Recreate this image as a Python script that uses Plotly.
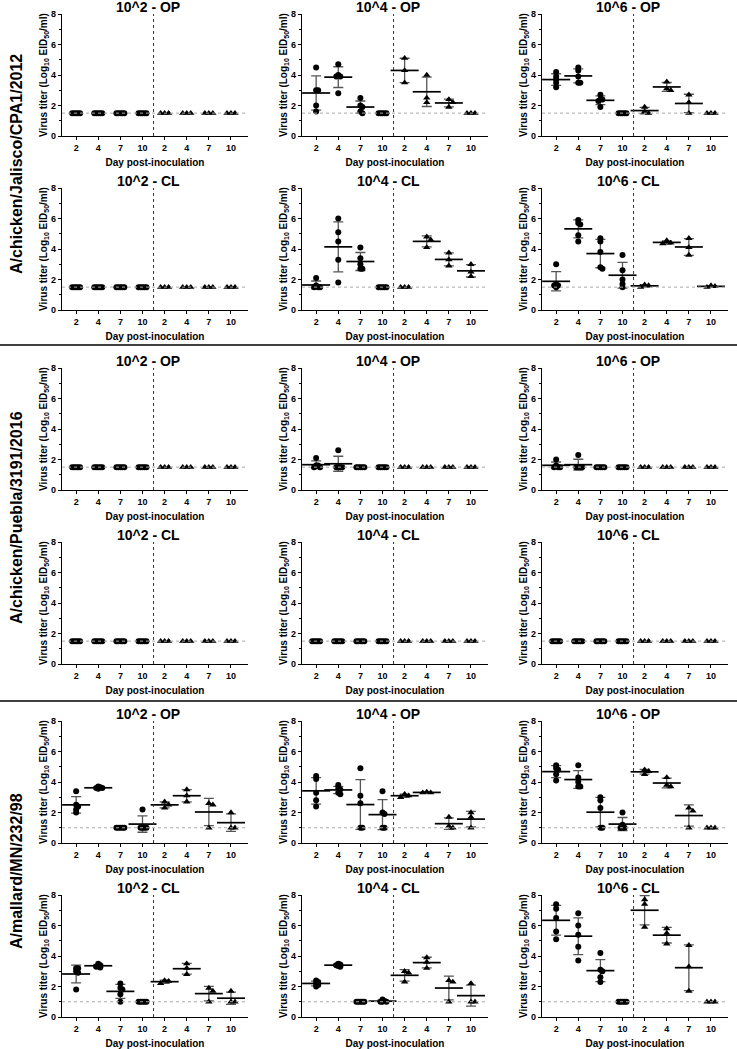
import numpy as np
import plotly.graph_objects as go

FONT = "Liberation Sans, Arial, sans-serif"

DAY_LABELS = ["2", "4", "7", "10", "2", "4", "7", "10"]
DOSES = ["10^2", "10^4", "10^6"]
SAMPLES = ["OP", "CL"]
STRAINS = ["A/chicken/Jalisco/CPA1/2012", "A/chicken/Puebla/3191/2016", "A/mallard/MN/232/98"]
LOD = [1.5, 1.5, 1.0]

# each panel: days 2,4,7,10 (circles, n=5) then days 2,4,7,10 (triangles, n=3)
JAL_E2_OP = [[1.5, 1.5, 1.5, 1.5, 1.5], [1.5, 1.5, 1.5, 1.5, 1.5], [1.5, 1.5, 1.5, 1.5, 1.5], [1.5, 1.5, 1.5, 1.5, 1.5],
             [1.5, 1.5, 1.5], [1.5, 1.5, 1.5], [1.5, 1.5, 1.5], [1.5, 1.5, 1.5]]
JAL_E4_OP = [[4.5, 3.0, 3.0, 2.0, 1.6], [4.7, 4.0, 3.9, 3.9, 2.8], [2.5, 2.0, 1.9, 1.6, 1.5], [1.5, 1.5, 1.5, 1.5, 1.5],
             [5.1, 4.3, 3.5], [4.0, 2.5, 2.2], [2.4, 2.2, 1.9], [1.5, 1.5, 1.5]]
JAL_E6_OP = [[4.2, 3.9, 3.7, 3.5, 3.2], [4.5, 4.3, 3.9, 3.5, 3.5], [2.7, 2.4, 2.4, 2.3, 1.9], [1.5, 1.5, 1.5, 1.5, 1.5],
             [1.9, 1.6, 1.5], [3.55, 3.1, 3.0], [2.7, 2.2, 1.5], [1.5, 1.5, 1.5]]
JAL_E2_CL = [[1.5, 1.5, 1.5, 1.5, 1.5], [1.5, 1.5, 1.5, 1.5, 1.5], [1.5, 1.5, 1.5, 1.5, 1.5], [1.5, 1.5, 1.5, 1.5, 1.5],
             [1.5, 1.5, 1.5], [1.5, 1.5, 1.5], [1.5, 1.5, 1.5], [1.5, 1.5, 1.5]]
JAL_E4_CL = [[2.1, 1.6, 1.5, 1.5, 1.5], [6.0, 5.1, 4.5, 3.3, 1.8], [4.1, 3.4, 3.0, 2.7, 2.7], [1.5, 1.5, 1.5, 1.5, 1.5],
             [1.5, 1.5, 1.5], [4.8, 4.6, 4.1], [3.75, 3.3, 2.9], [3.0, 2.5, 2.2]]
JAL_E6_CL = [[3.0, 1.7, 1.6, 1.6, 1.5], [5.9, 5.7, 5.6, 4.9, 4.5], [4.7, 4.5, 3.8, 2.8, 2.7], [3.6, 2.6, 2.0, 1.7, 1.5],
             [1.65, 1.6, 1.5], [4.55, 4.4, 4.35], [4.7, 4.1, 3.6], [1.6, 1.55, 1.5]]

PUE_E2_OP = [[1.5, 1.5, 1.5, 1.5, 1.5], [1.5, 1.5, 1.5, 1.5, 1.5], [1.5, 1.5, 1.5, 1.5, 1.5], [1.5, 1.5, 1.5, 1.5, 1.5],
             [1.5, 1.5, 1.5], [1.5, 1.5, 1.5], [1.5, 1.5, 1.5], [1.5, 1.5, 1.5]]
PUE_E4_OP = [[2.1, 1.6, 1.6, 1.5, 1.5], [2.6, 1.5, 1.5, 1.5, 1.5], [1.5, 1.5, 1.5, 1.5, 1.5], [1.5, 1.5, 1.5, 1.5, 1.5],
             [1.5, 1.5, 1.5], [1.5, 1.5, 1.5], [1.5, 1.5, 1.5], [1.5, 1.5, 1.5]]
PUE_E6_OP = [[2.0, 1.6, 1.5, 1.5, 1.5], [2.3, 1.5, 1.5, 1.5, 1.5], [1.5, 1.5, 1.5, 1.5, 1.5], [1.5, 1.5, 1.5, 1.5, 1.5],
             [1.5, 1.5, 1.5], [1.5, 1.5, 1.5], [1.5, 1.5, 1.5], [1.5, 1.5, 1.5]]
PUE_E2_CL = [[1.5, 1.5, 1.5, 1.5, 1.5], [1.5, 1.5, 1.5, 1.5, 1.5], [1.5, 1.5, 1.5, 1.5, 1.5], [1.5, 1.5, 1.5, 1.5, 1.5],
             [1.5, 1.5, 1.5], [1.5, 1.5, 1.5], [1.5, 1.5, 1.5], [1.5, 1.5, 1.5]]
PUE_E4_CL = [[1.5, 1.5, 1.5, 1.5, 1.5], [1.5, 1.5, 1.5, 1.5, 1.5], [1.5, 1.5, 1.5, 1.5, 1.5], [1.5, 1.5, 1.5, 1.5, 1.5],
             [1.5, 1.5, 1.5], [1.5, 1.5, 1.5], [1.5, 1.5, 1.5], [1.5, 1.5, 1.5]]
PUE_E6_CL = [[1.5, 1.5, 1.5, 1.5, 1.5], [1.5, 1.5, 1.5, 1.5, 1.5], [1.5, 1.5, 1.5, 1.5, 1.5], [1.5, 1.5, 1.5, 1.5, 1.5],
             [1.5, 1.5, 1.5], [1.5, 1.5, 1.5], [1.5, 1.5, 1.5], [1.5, 1.5, 1.5]]

MAL_E2_OP = [[3.4, 2.5, 2.4, 2.2, 2.0], [3.7, 3.65, 3.6, 3.6, 3.55], [1.0, 1.0, 1.0, 1.0, 1.0], [2.2, 1.0, 1.0, 1.0, 1.0],
             [2.7, 2.5, 2.3], [3.5, 3.1, 2.7], [2.6, 2.5, 1.0], [2.0, 1.0, 1.0]]
MAL_E4_OP = [[4.4, 4.2, 3.3, 2.8, 2.4], [3.8, 3.6, 3.5, 3.3, 3.2], [4.9, 3.1, 2.6, 1.0, 1.0], [3.4, 2.0, 1.9, 1.0, 1.0],
             [3.2, 3.1, 3.0], [3.35, 3.3, 3.3], [1.7, 1.1, 1.0], [2.0, 1.7, 1.0]]
MAL_E6_OP = [[5.1, 4.9, 4.8, 4.5, 4.1], [5.1, 4.3, 4.0, 3.7, 3.7], [3.0, 2.8, 2.3, 1.0, 1.0], [2.0, 1.2, 1.0, 1.0, 1.0],
             [4.8, 4.7, 4.5], [4.3, 3.8, 3.7], [2.3, 2.1, 1.0], [1.0, 1.0, 1.0]]
MAL_E2_CL = [[3.2, 3.2, 3.0, 2.9, 1.8], [3.5, 3.4, 3.35, 3.3, 3.25], [2.2, 1.9, 1.8, 1.5, 1.0], [1.0, 1.0, 1.0, 1.0, 1.0],
             [2.4, 2.35, 2.2], [3.5, 3.2, 2.8], [1.9, 1.7, 1.0], [1.7, 1.0, 1.0]]
MAL_E4_CL = [[2.4, 2.3, 2.2, 2.1, 2.0], [3.5, 3.45, 3.4, 3.35, 3.3], [1.0, 1.0, 1.0, 1.0, 1.0], [1.15, 1.05, 1.0, 1.0, 1.0],
             [3.0, 2.9, 2.3], [3.9, 3.6, 3.2], [2.4, 2.3, 1.0], [2.2, 1.0, 1.0]]
MAL_E6_CL = [[7.4, 7.1, 6.5, 5.6, 5.1], [6.8, 6.0, 5.4, 4.6, 3.7], [4.2, 3.1, 3.0, 2.6, 2.3], [1.0, 1.0, 1.0, 1.0, 1.0],
             [7.7, 7.4, 5.9], [5.8, 5.5, 4.8], [4.7, 3.3, 1.7], [1.0, 1.0, 1.0]]

PANELS = [
    [JAL_E2_OP, JAL_E4_OP, JAL_E6_OP],
    [JAL_E2_CL, JAL_E4_CL, JAL_E6_CL],
    [PUE_E2_OP, PUE_E4_OP, PUE_E6_OP],
    [PUE_E2_CL, PUE_E4_CL, PUE_E6_CL],
    [MAL_E2_OP, MAL_E4_OP, MAL_E6_OP],
    [MAL_E2_CL, MAL_E4_CL, MAL_E6_CL],
]

# page geometry in pixels
W, H = 737, 1049
COL_LEFT = [62, 302, 542]
PLOT_W = 186
ROW_TOP = [14, 188, 368, 542, 721, 895]
PLOT_H = 122
X_RANGE = [-0.64, 7.77]
PX_X = PLOT_W / (X_RANGE[1] - X_RANGE[0])
PX_Y = PLOT_H / 8.0
SEPARATORS = [345, 701]


def swarm(vals, gap):
    # simple beeswarm: keep points centred, push overlapping ones sideways
    placed = []
    offs = [0.0] * len(vals)
    for i in sorted(range(len(vals)), key=lambda k: -vals[k]):
        y = vals[i] * PX_Y
        k = 0
        while True:
            cand = ((k + 1) // 2) * gap * (1 if k % 2 else -1)
            if all((cand - px) ** 2 + (y - py) ** 2 >= gap ** 2 - 1e-9 for px, py in placed):
                break
            k += 1
        placed.append((cand, y))
        offs[i] = cand / PX_X
    return offs


fig = go.Figure()
annotations = []
shapes = []
axis_font = dict(family=FONT, size=10, color="black", weight="bold")
tick_font = dict(family=FONT, size=9, color="black", weight="bold")

for r in range(6):
    group = r // 2
    for c in range(3):
        idx = r * 3 + c + 1
        sfx = "" if idx == 1 else str(idx)
        xa, ya = "x" + sfx, "y" + sfx
        panel = PANELS[r][c]

        cx, cy, tx, ty = [], [], [], []
        for g, vals in enumerate(panel):
            offs = swarm(vals, 2.0 if g < 4 else 4.0)
            for v, o in zip(vals, offs):
                if g < 4:
                    cx.append(g + o)
                    cy.append(v)
                else:
                    tx.append(g + o)
                    ty.append(v)

        # mean +/- SD only where the group is not flat at the detection limit
        mx, my, msd = [], [], []
        for g, vals in enumerate(panel):
            sd = float(np.std(vals, ddof=1))
            if sd > 0:
                mx.append(g)
                my.append(float(np.mean(vals)))
                msd.append(sd)

        fig.add_trace(go.Scatter(
            x=mx, y=my, mode="markers", xaxis=xa, yaxis=ya,
            marker=dict(symbol="line-ew", size=20, line=dict(width=1.7, color="black")),
            error_y=dict(type="data", array=msd, visible=True, color="#555555", thickness=1.3, width=5),
            showlegend=False, hoverinfo="skip",
        ))
        fig.add_trace(go.Scatter(
            x=cx, y=cy, mode="markers", xaxis=xa, yaxis=ya,
            marker=dict(symbol="circle", size=6, color="black", line=dict(width=0)), showlegend=False,
        ))
        fig.add_trace(go.Scatter(
            x=tx, y=ty, mode="markers", xaxis=xa, yaxis=ya,
            marker=dict(symbol="triangle-up", size=6.5, color="black", line=dict(width=0)), showlegend=False,
        ))

        left = COL_LEFT[c]
        top = ROW_TOP[r]
        fig.layout["xaxis" + sfx] = dict(
            domain=[left / W, (left + PLOT_W) / W], anchor=ya, range=X_RANGE, automargin=False,
            tickvals=list(range(8)), ticktext=DAY_LABELS, tickfont=tick_font,
            showline=True, linecolor="black", linewidth=1.3, ticks="outside", ticklen=3,
            tickwidth=1.2, tickcolor="black", showgrid=False, zeroline=False,
            title=dict(text="Day post-inoculation", font=axis_font, standoff=7),
        )
        fig.layout["yaxis" + sfx] = dict(
            domain=[1 - (top + PLOT_H) / H, 1 - top / H], anchor=xa, range=[0, 8], automargin=False,
            tick0=0, dtick=2, tickfont=tick_font,
            showline=True, linecolor="black", linewidth=1.3, ticks="outside", ticklen=3,
            tickwidth=1.2, tickcolor="black", showgrid=False, zeroline=False,
            minor=dict(dtick=1, ticks="outside", ticklen=2, tickwidth=1.1, tickcolor="black"),
            title=dict(text="Virus titer (Log<sub>10</sub> EID<sub>50</sub>/ml)", font=axis_font, standoff=1),
        )

        shapes.append(dict(type="line", xref=xa, yref=ya, x0=3.5, x1=3.5, y0=0, y1=8,
                           line=dict(color="#333333", width=1, dash="dot")))
        shapes.append(dict(type="line", xref=xa + " domain", yref=ya, x0=0, x1=1,
                           y0=LOD[group], y1=LOD[group],
                           line=dict(color="#aaaaaa", width=1, dash="dot")))

        annotations.append(dict(
            text=f"{DOSES[c]} - {SAMPLES[r % 2]}", xref="paper", yref="paper",
            x=(left + PLOT_W / 2 - 7) / W, y=1 - (top - 7) / H, xanchor="center", yanchor="middle",
            showarrow=False, font=dict(family=FONT, size=14, color="black", weight="bold"),
        ))

for g, name in enumerate(STRAINS):
    mid = (ROW_TOP[2 * g] + ROW_TOP[2 * g + 1] + PLOT_H) / 2 + 2
    annotations.append(dict(
        text=name, xref="paper", yref="paper", x=16 / W, y=1 - mid / H,
        xanchor="center", yanchor="middle", textangle=-90, showarrow=False,
        font=dict(family=FONT, size=16, color="black", weight="bold"),
    ))

for yp in SEPARATORS:
    shapes.append(dict(type="line", xref="paper", yref="paper", x0=0, x1=1,
                       y0=1 - yp / H, y1=1 - yp / H, line=dict(color="black", width=1.3)))

fig.update_layout(
    width=W, height=H, margin=dict(l=0, r=0, t=0, b=0),
    paper_bgcolor="white", plot_bgcolor="white",
    font=dict(family=FONT, color="black"),
    annotations=annotations, shapes=shapes, showlegend=False,
)

# page body has a default 8px margin; drop it so the figure sits at the window corner
fig.write_html("out.html", config={"displayModeBar": False},
               post_script="document.body.style.margin='0';")
